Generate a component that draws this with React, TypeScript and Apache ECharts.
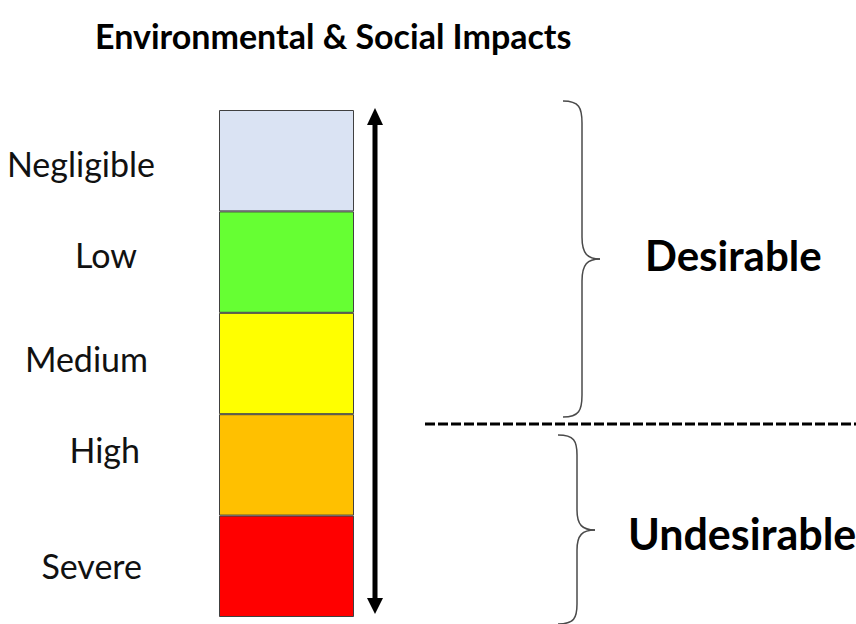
import React, { useEffect, useRef } from "react";
import * as echarts from "echarts";

const titleText = "Environmental & Social Impacts";
const categories = ["Negligible", "Low", "Medium", "High", "Severe"];
const segmentValues = [1, 1, 1, 1, 1];
const segmentColors = ["#dae3f3", "#66ff33", "#ffff00", "#ffc000", "#ff0000"];
const groupLabels = ["Desirable", "Undesirable"];

// per-label fine placement (right padding, vertical shift)
const labelPadRight = [0, 18, 7, 15, 13];
const labelShiftY = [3, -8, -5, -15, -1];

function brace(xh: number, xl: number, xt: number, yt: number, ytip: number, yb: number, r: number) {
  const st = { stroke: "#4a4a4a", lineWidth: 1.5, fill: null as any };
  const bz = (x1: number, y1: number, cpx1: number, cpy1: number, cpx2: number, cpy2: number, x2: number, y2: number) => ({
    type: "bezierCurve",
    shape: { x1, y1, cpx1, cpy1, cpx2, cpy2, x2, y2 },
    style: st,
    silent: true,
  });
  const ln = (x1: number, y1: number, x2: number, y2: number) => ({
    type: "line",
    shape: { x1, y1, x2, y2 },
    style: st,
    silent: true,
  });
  return [
    bz(xh, yt, xh + (xl - xh) * 0.85, yt, xl, yt + r * 0.3, xl, yt + r),
    ln(xl, yt + r, xl, ytip - r),
    bz(xl, ytip - r, xl, ytip - r * 0.25, xl + (xt - xl) * 0.3, ytip, xt, ytip),
    bz(xt, ytip, xl + (xt - xl) * 0.3, ytip, xl, ytip + r * 0.25, xl, ytip + r),
    ln(xl, ytip + r, xl, yb - r),
    bz(xl, yb - r, xl, yb - r * 0.3, xh + (xl - xh) * 0.85, yb, xh, yb),
  ];
}

export default function App() {
  const ref = useRef<HTMLDivElement>(null);
  useEffect(() => {
    document.body.style.margin = "0";
    const chart = echarts.init(ref.current!, null, { renderer: "svg" });
    const rich: Record<string, any> = {};
    categories.forEach((_, i) => {
      const s = labelShiftY[i];
      rich["l" + i] = {
        fontFamily: "Lato",
        fontSize: 34,
        color: "#111",
        padding: [s > 0 ? 2 * s : 0, labelPadRight[i], s < 0 ? -2 * s : 0, 0],
      };
    });
    chart.setOption({
      animation: false,
      backgroundColor: "#ffffff",
      title: {
        text: titleText,
        left: 90,
        top: 13,
        textStyle: { fontFamily: "Lato", fontWeight: "bold", fontSize: 34, color: "#000" },
      },
      grid: { left: 219, top: 110, width: 135, height: 507 },
      xAxis: { type: "value", min: 0, max: 1, show: false },
      yAxis: {
        type: "category",
        data: categories,
        inverse: true,
        axisLine: { show: false },
        axisTick: { show: false },
        splitLine: { show: false },
        axisLabel: {
          margin: 64,
          align: "right",
          formatter: (v: string, i: number) => `{l${i}|${v}}`,
          rich,
        },
      },
      series: [
        {
          type: "bar",
          barCategoryGap: 0,
          data: segmentValues.map((v, i) => ({
            value: v,
            itemStyle: { color: segmentColors[i], borderColor: "#404040", borderWidth: 1 },
          })),
        },
      ],
      graphic: [
        // double arrow
        { type: "line", shape: { x1: 375, y1: 122, x2: 375, y2: 601 }, style: { stroke: "#000", lineWidth: 5 }, silent: true },
        { type: "polygon", shape: { points: [[375, 108], [367, 125], [383, 125]] }, style: { fill: "#000" }, silent: true },
        { type: "polygon", shape: { points: [[375, 614], [367, 598], [383, 598]] }, style: { fill: "#000" }, silent: true },
        // braces
        ...brace(563, 582, 600, 101, 259, 417, 22),
        ...brace(558, 577, 595, 435, 530, 624, 20),
        // dashed separator
        { type: "line", shape: { x1: 425, y1: 424, x2: 856, y2: 424 }, style: { stroke: "#000", lineWidth: 3, lineDash: [10, 3] }, silent: true },
        {
          type: "text",
          x: 645,
          y: 255,
          style: { text: groupLabels[0], fontFamily: "Lato", fontWeight: "bold", fontSize: 42, fill: "#000", verticalAlign: "middle", align: "left" },
        },
        {
          type: "text",
          x: 628,
          y: 533,
          style: { text: groupLabels[1], fontFamily: "Lato", fontWeight: "bold", fontSize: 43, fill: "#000", verticalAlign: "middle", align: "left" },
        },
      ],
    });
    return () => chart.dispose();
  }, []);
  return <div ref={ref} style={{ width: 856, height: 624 }} />;
}
